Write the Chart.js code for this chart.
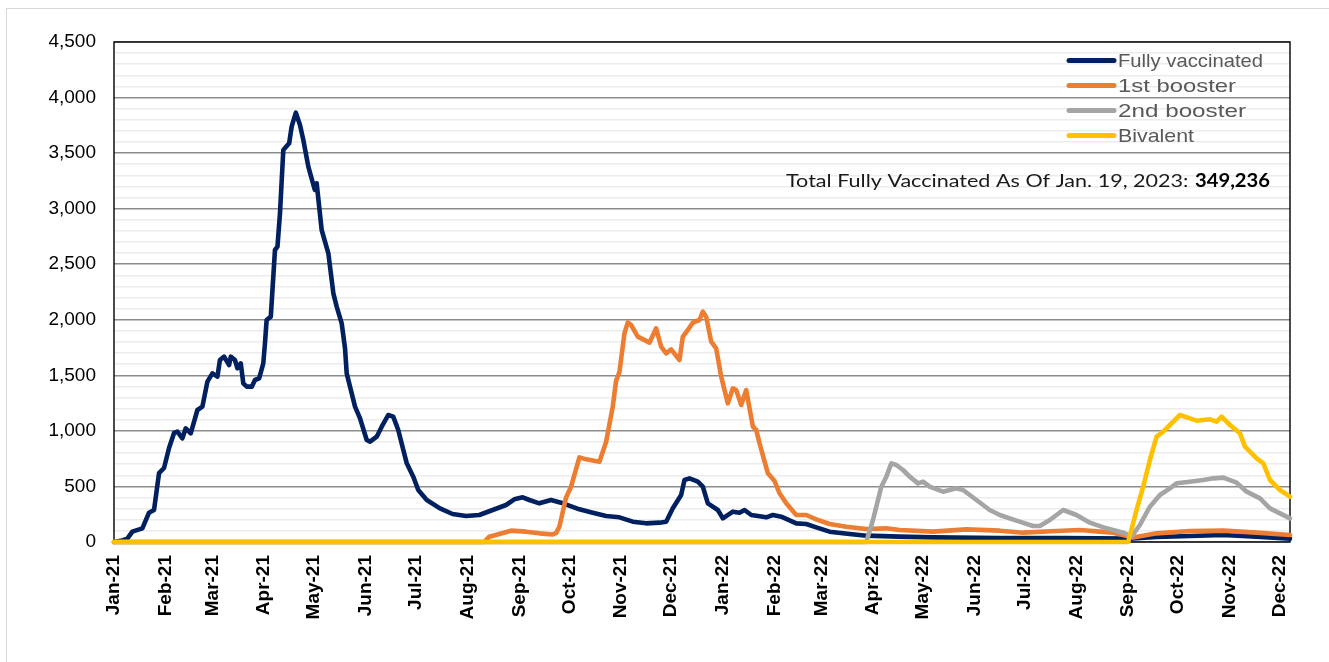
<!DOCTYPE html>
<html><head><meta charset="utf-8">
<script src="https://cdn.jsdelivr.net/npm/chart.js@4.4.1/dist/chart.umd.min.js"></script>
<style>
html,body{margin:0;padding:0;background:#fff;overflow:hidden}
#wrap{position:relative;width:1329px;height:662px}
#frame{position:absolute;left:6px;top:8px;width:1400px;height:800px;border:1px solid #d9d9d9;box-sizing:border-box}
canvas{position:absolute;left:0;top:0}
</style></head><body>
<div id="wrap"><div id="frame"></div><canvas id="c" width="1329" height="662"></canvas></div>
<script>
// Days since 1 Jan 2021 for month ticks
const monthDays = [0,31,59,90,120,151,181,212,243,273,304,334,365,396,424,455,485,516,546,577,608,638,669,699];
const monthLabels = ['Jan-21','Feb-21','Mar-21','Apr-21','May-21','Jun-21','Jul-21','Aug-21','Sep-21','Oct-21','Nov-21','Dec-21',
                     'Jan-22','Feb-22','Mar-22','Apr-22','May-22','Jun-22','Jul-22','Aug-22','Sep-22','Oct-22','Nov-22','Dec-22'];
const seriesNames = ['Fully vaccinated','1st booster','2nd booster','Bivalent'];

const fullyDays = [0,4,8,11,17,21,24,27,30,33,
  36,38,41,43,46,50,53,56,59,62,
  63.5,66,69,70,72.5,74,76,77.5,79.6,82.6,
  84.5,87,89.5,90.5,91.5,94,96.5,98,99.5,101.5,
  105,106.5,109,111.5,113.5,116.5,119,120.4,121.5,124.5,
  128.5,131.5,133.5,136.5,138.5,139.5,144.5,147.5,151.5,153.5,
  157.5,160.5,164.4,167.4,170.4,175.5,179.4,182.4,187.5,195.4,
  203,211,219,227,235,240,245,249,255,262,
  268,279,287,295,303,311,319,327,331,335,
  340,342,345,350,353,356,362,365,371,375,
  378,382,391,395,400,409,415,421,429,441,
  451,471,491,531,570,609,625,645,665,685,705];
const fullyVals = [0,10,30,93,123,264,288,620,666,846,
  981,993,933,1023,978,1188,1218,1443,1518,1488,
  1638,1668,1593,1668,1638,1563,1608,1428,1398,1398,
  1458,1473,1608,1788,1998,2028,2628,2658,2958,3528,
  3588,3738,3864,3753,3618,3378,3243,3168,3228,2808,
  2598,2238,2118,1968,1743,1518,1218,1113,918,903,
  948,1038,1143,1128,1008,708,588,468,378,303,
  252,234,243,288,333,384,402,378,348,378,
  354,294,264,234,222,183,168,174,183,303,
  423,558,573,543,498,348,288,213,273,264,
  288,243,222,243,228,168,162,132,93,72,
  57,48,42,36,36,30,45,54,63,48,30];

const booster1Days = [0,222,225,238,247,255,263,265,267,271,
  274,279,283,291,295,299,301,303,306,308,
  310,314,321,325,328,331,334,339,341,344,
  347,351,353,355,358,361,364,368,371,373,
  376,379,383,385,387,392,396,399,403,409,
  415,421,429,439,451,463,471,491,511,531,
  545,565,579,591,599,611,625,645,665,685,705];
const booster1Vals = [0,0,48,102,93,78,68,80,138,400,
  498,762,744,723,900,1218,1450,1530,1878,1977,
  1953,1848,1794,1923,1758,1698,1734,1638,1848,1908,
  1974,1998,2073,2028,1803,1743,1488,1248,1383,1368,
  1233,1368,1038,1008,888,618,548,438,348,243,
  243,204,162,138,117,123,108,93,114,102,
  84,99,108,93,84,40,78,99,102,84,63];

const booster2Days = [0,451,455,460,463,466,469,473,477,482,
  485,489,497,505,509,517,525,531,541,551,
  555,561,569,577,585,595,605,610,615,621,
  627,633,637,645,653,659,665,673,679,687,
  693,699,705];
const booster2Vals = [0,0,198,498,588,708,693,648,588,528,
  543,498,453,483,468,378,288,243,192,144,
  144,198,288,243,174,123,84,48,153,318,
  423,483,528,543,558,573,579,534,453,393,
  303,258,213];

const bivalentDays = [0,608,613,617,621,625,629,633,639,645,
  649,657,661,664,669,675,678,685,689,693,
  699,705];
const bivalentVals = [0,0,288,498,738,948,993,1053,1143,1113,
  1092,1104,1083,1128,1053,978,858,753,708,558,
  468,408];

const colors = ['#002060','#ED7D31','#A5A5A5','#FFC000'];
const totalText = 'Total Fully Vaccinated As Of Jan. 19, 2023: ';
const totalValue = '349,236';

const toPts = (days, vals) => days.map((d, i) => ({x: d, y: vals[i]}));
const mkDs = (i, days, vals, order) => ({
  label: seriesNames[i], data: toPts(days, vals), borderColor: colors[i], backgroundColor: colors[i],
  borderWidth: 4.6, pointRadius: 0, pointHoverRadius: 0, tension: 0, fill: false, clip: 4,
  borderJoinStyle: 'round', borderCapStyle: 'round', order
});

function drawFit(ctx, text, x, y, font, color, width, baseline) {
  ctx.save();
  ctx.font = font; ctx.fillStyle = color; ctx.textBaseline = baseline; ctx.textAlign = 'left';
  const w = ctx.measureText(text).width;
  ctx.translate(x, y); ctx.scale(width ? width / w : 1, 1);
  ctx.fillText(text, 0, 0);
  ctx.restore();
}

const overlay = {
  id: 'overlay',
  beforeDatasetsDraw(chart) {
    const {ctx, chartArea: a} = chart;
    ctx.save(); ctx.strokeStyle = '#111'; ctx.lineWidth = 1.5;
    ctx.strokeRect(a.left, a.top, a.right - a.left, a.bottom - a.top);
    ctx.restore();
  },
  afterDraw(chart) {
    const ctx = chart.ctx;
    const legendW = [145, 118, 128, 76];
    seriesNames.forEach((name, i) => {
      const y = 60.5 + i * 25;
      ctx.save();
      ctx.strokeStyle = colors[i]; ctx.lineWidth = 5; ctx.lineCap = 'round';
      ctx.beginPath(); ctx.moveTo(1069, y); ctx.lineTo(1114, y); ctx.stroke();
      ctx.restore();
      drawFit(ctx, name, 1118, y + 1, '19px "Liberation Sans", Arial, sans-serif', '#595959', legendW[i], 'middle');
    });
    drawFit(ctx, totalText, 786, 187, '18px Lato, "Open Sans", sans-serif', '#1a1a1a', 408, 'alphabetic');
    drawFit(ctx, totalValue, 1195, 187, 'bold 18px Lato, "Open Sans", sans-serif', '#000', 75, 'alphabetic');
  }
};

new Chart(document.getElementById('c'), {
  type: 'line',
  data: { datasets: [
    mkDs(0, fullyDays, fullyVals, 3),
    mkDs(1, booster1Days, booster1Vals, 2),
    mkDs(2, booster2Days, booster2Vals, 1),
    mkDs(3, bivalentDays, bivalentVals, 0)
  ]},
  options: {
    responsive: false, animation: false, devicePixelRatio: 1,
    layout: { padding: { left: 0, top: 42, right: 39, bottom: 0 } },
    plugins: { legend: { display: false }, tooltip: { enabled: false } },
    scales: {
      x: {
        type: 'linear', min: 0, max: 705,
        afterBuildTicks: s => { s.ticks = monthDays.map(v => ({value: v})); },
        afterFit: s => { s.height = 120; },
        grid: { display: false, drawTicks: false },
        border: { display: false },
        ticks: {
          autoSkip: false, maxRotation: 90, minRotation: 90, padding: 13,
          color: '#000', font: { family: '"Liberation Sans", Arial, sans-serif', size: 19, weight: 'bold' },
          callback: (v, i) => monthLabels[i]
        }
      },
      y: {
        min: 0, max: 4500,
        afterFit: s => { s.width = 114; },
        grid: {
          drawTicks: false, lineWidth: 1.5,
          color: c => (c.tick && c.tick.value % 500 === 0) ? '#8c8c8c' : '#ececec'
        },
        border: { display: false },
        ticks: {
          stepSize: 100, autoSkip: false, padding: 18, color: '#000',
          font: { family: '"Liberation Sans", Arial, sans-serif', size: 19 },
          callback: v => (v % 500 === 0) ? v.toLocaleString('en-US') : ''
        }
      }
    }
  },
  plugins: [overlay]
});
</script>
</body></html>
